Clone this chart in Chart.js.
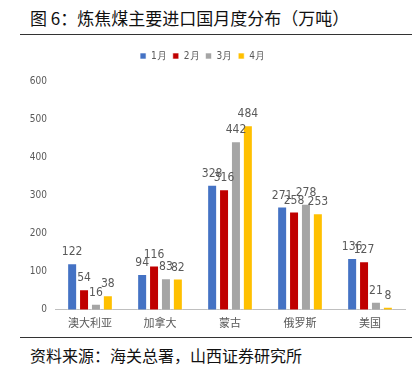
<!DOCTYPE html>
<html>
<head>
<meta charset="utf-8">
<script src="https://cdn.jsdelivr.net/npm/chart.js@4"></script>
<style>
  body { margin: 0; background: #fff; width: 420px; height: 378px; position: relative; overflow: hidden; font-family: "Noto Sans CJK SC", sans-serif; }
  .title { position: absolute; left: 30px; top: 5px; font-size: 17px; color: #111; white-space: nowrap; }
  .rule { position: absolute; left: 20px; width: 392px; height: 1px; background: #333; }
  .source { position: absolute; left: 30px; top: 343px; font-size: 16px; color: #111; white-space: nowrap; }
  #wrap { position: absolute; left: 0; top: 40px; width: 420px; height: 295px; }
</style>
</head>
<body>
<div class="title">图 6：炼焦煤主要进口国月度分布（万吨）</div>
<div class="rule" style="top:34px"></div>
<div id="wrap"><canvas id="myChart"></canvas></div>
<div class="rule" style="top:337px"></div>
<div class="source">资料来源：海关总署，山西证券研究所</div>
<script>
const categories = ["澳大利亚", "加拿大", "蒙古", "俄罗斯", "美国"];
const seriesNames = ["1月", "2月", "3月", "4月"];
const jan = [122, 94, 328, 271, 136];
const feb = [54, 116, 316, 258, 127];
const mar = [16, 83, 442, 278, 21];
const apr = [38, 82, 484, 253, 8];
const yTicks = [0, 100, 200, 300, 400, 500, 600];
const colors = ["#4472C4", "#C00000", "#A5A5A5", "#FFC000"];

const numFont = "'Liberation Sans Narrow', 'DejaVu Sans Condensed', sans-serif";

// value above every bar
const valueLabels = {
  id: "valueLabels",
  afterDatasetsDraw(chart) {
    const ctx = chart.ctx;
    ctx.save();
    ctx.font = "12px " + numFont;
    ctx.fillStyle = "#595959";
    ctx.textAlign = "center";
    ctx.textBaseline = "bottom";
    chart.data.datasets.forEach((ds, i) => {
      chart.getDatasetMeta(i).data.forEach((bar, j) => {
        ctx.fillText(ds.data[j], bar.x, bar.y - 5);
      });
    });
    ctx.restore();
  }
};

// extra room under the legend
const legendMargin = {
  id: "legendMargin",
  beforeInit(chart) {
    const fit = chart.legend.fit;
    chart.legend.fit = function () {
      fit.bind(chart.legend)();
      this.height += 10;
    };
  }
};

const ctx = document.getElementById("myChart").getContext("2d");
new Chart(ctx, {
  type: "bar",
  data: {
    labels: categories,
    datasets: [jan, feb, mar, apr].map((d, i) => ({
      label: seriesNames[i],
      data: d,
      backgroundColor: colors[i],
      borderColor: "rgba(255,255,255,0.6)",
      borderWidth: 1,
      categoryPercentage: 0.68,
      barPercentage: 0.84
    }))
  },
  options: {
    responsive: true,
    maintainAspectRatio: false,
    animation: false,
    layout: { padding: { top: 5, right: 15, bottom: 0, left: 0 } },
    plugins: {
      legend: {
        position: "top",
        labels: {
          boxWidth: 6,
          boxHeight: 6,
          padding: 6,
          color: "#595959",
          font: { size: 10, family: numFont }
        }
      },
      tooltip: { enabled: false }
    },
    scales: {
      x: {
        grid: { display: false, drawTicks: false },
        border: { color: "#BFBFBF", width: 1 },
        ticks: { color: "#595959", font: { size: 11, family: "'Noto Sans CJK SC'" }, padding: 6 }
      },
      y: {
        min: 0,
        max: 600,
        afterBuildTicks(scale) { scale.ticks = yTicks.map(v => ({ value: v })); },
        afterFit(scale) { scale.width = 55; },
        grid: { display: false, drawTicks: false },
        border: { display: false },
        ticks: { color: "#595959", font: { size: 10, family: numFont }, padding: 8 }
      }
    }
  },
  plugins: [valueLabels, legendMargin]
});
</script>
</body>
</html>
